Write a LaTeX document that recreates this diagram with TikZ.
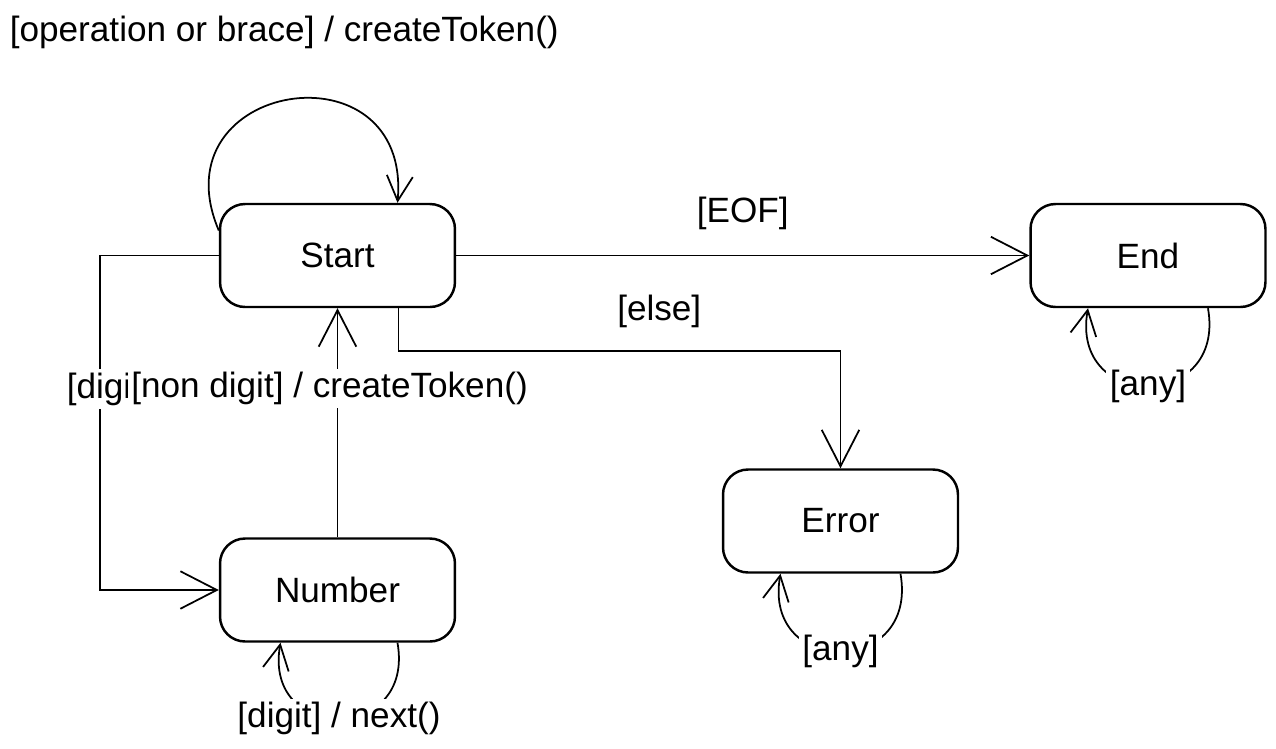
\documentclass[tikz,border=0pt]{standalone}
\usepackage{fontspec}
\setmainfont{Liberation Sans}
\usetikzlibrary{arrows.meta}

\begin{document}
\begin{tikzpicture}[x=0.02cm, y=0.02cm,
    state/.style={draw, line width=1.4pt, rounded corners=0.5cm, minimum width=4.7cm, minimum height=2.06cm, font=\fontsize{20}{24}\selectfont},
    lbl/.style={fill=white, inner sep=2pt, font=\fontsize{20}{24}\selectfont},
    arr/.style={line width=1pt, -{Straight Barb[length=0.73cm, width=0.75cm]}},
    selfloop/.style={line width=1pt, -{Straight Barb[length=0.5cm, width=0.52cm]}}]
            \useasboundingbox (0,0) rectangle (1276,-748);
            \node[state] (start) at (337.5,-255.5) {Start};
            \node[state] (end) at (1148,-255.5) {End};
            \node[state] (error) at (840.5,-521) {Error};
            \node[state] (number) at (337.5,-590) {Number};
            \node[lbl, anchor=west] (oplbl) at (6,-32) {[operation or brace] / createToken()};
            \draw[selfloop] ([yshift=0.5cm]start.west) to[out=113, in=85, looseness=2.3] ([xshift=1.2cm]start.north);
            \draw[arr] (start) -- node[lbl, midway, yshift=0.84cm] {[EOF]} (end);
            \draw[arr] ([xshift=1.22cm]start.south) -- ++(0,-0.86cm) -| node[lbl, pos=0.295, yshift=0.8cm] {[else]} (error.north);
            \draw[arr] (start.west) -- ++(-2.38cm,0) |- node[lbl, pos=0.2, xshift=0.18cm] {[digit]} (number.west);
            \draw[arr] (number) -- node[lbl, pos=0.65, xshift=-0.16cm] {[non digit] / createToken()} (start);
            \draw[selfloop] ([xshift=1.2cm]number.south) to[out=-80, in=-100, looseness=2.25] node[lbl] {[digit] / next()} ([xshift=-1.14cm]number.south);
            \draw[selfloop] ([xshift=1.2cm]error.south) to[out=-80, in=-100, looseness=2.25] node[lbl] {[any]} ([xshift=-1.2cm]error.south);
            \draw[selfloop] ([xshift=1.2cm]end.south) to[out=-80, in=-100, looseness=2.25] node[lbl] {[any]} ([xshift=-1.2cm]end.south);
        \end{tikzpicture}
\end{document}
